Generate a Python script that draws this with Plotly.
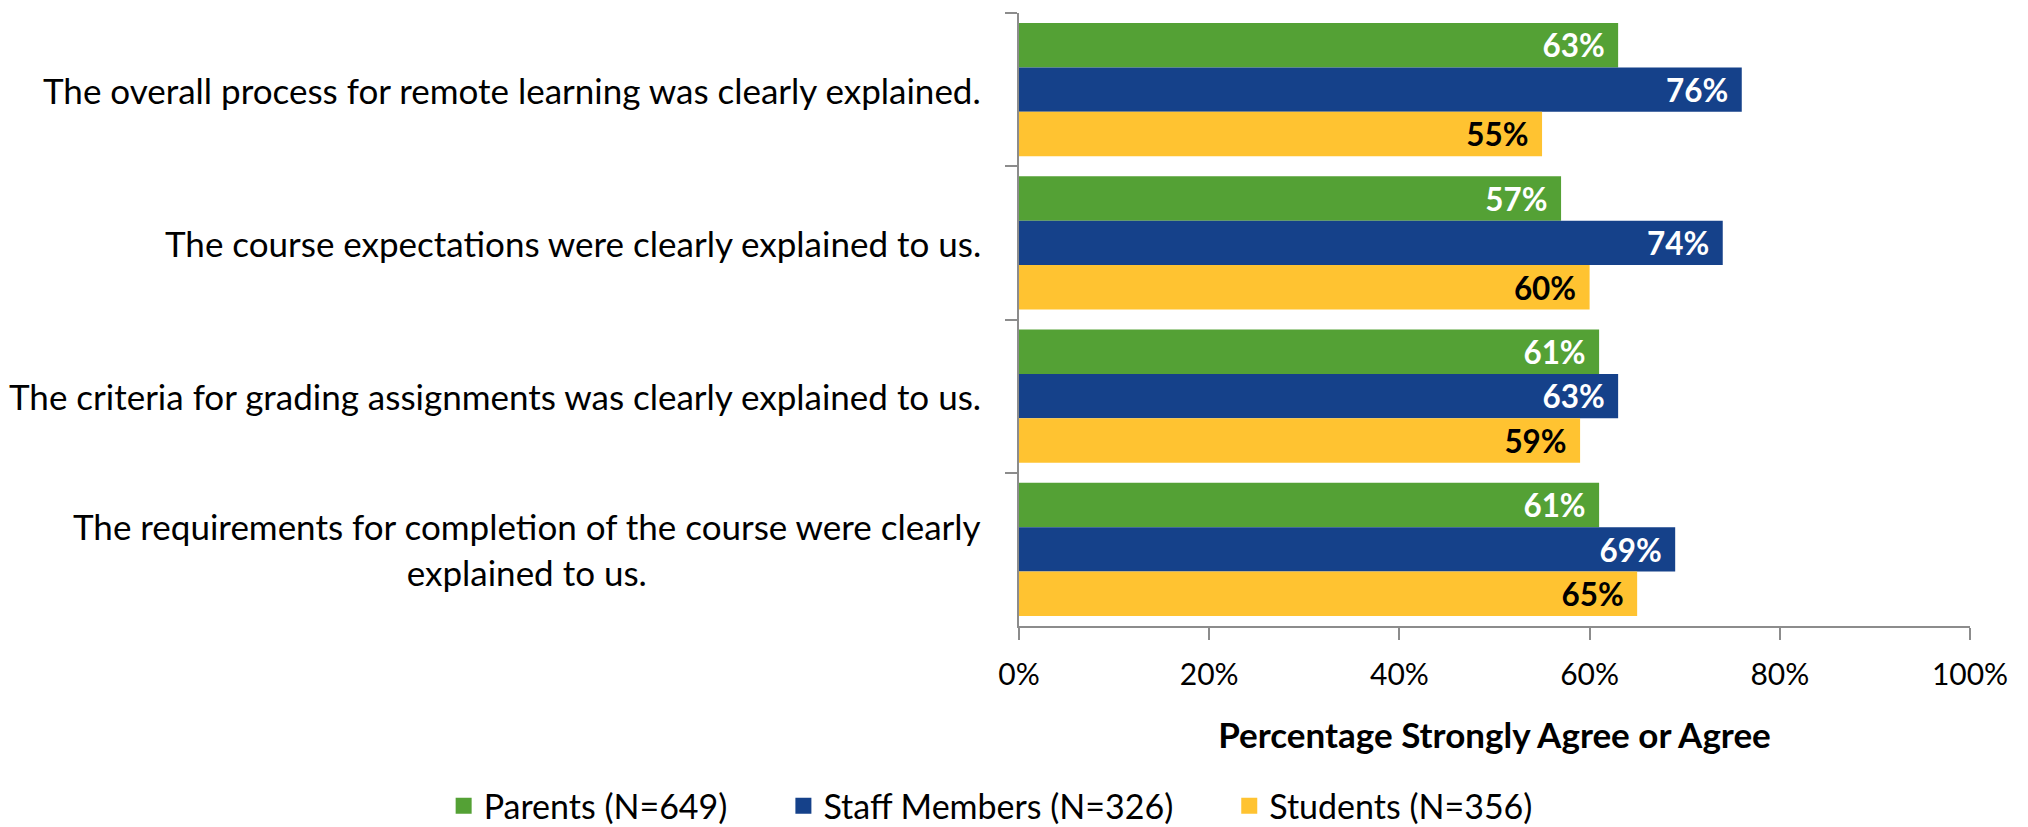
import plotly.graph_objects as go

categories = [
    "The overall process for remote learning was clearly explained.",
    "The course expectations were clearly explained to us.",
    "The criteria for grading assignments was clearly explained to us.",
    "The requirements for completion of the course were clearly<br>explained to us.",
]
parents = [63, 57, 61, 61]
staff = [76, 74, 63, 69]
students = [55, 60, 59, 65]
series_names = ["Parents (N=649)", "Staff Members (N=326)", "Students (N=356)"]
x_ticks = [0, 20, 40, 60, 80, 100]
x_tick_labels = ["0%", "20%", "40%", "60%", "80%", "100%"]

colors = ["#54A135", "#15418A", "#FFC331"]
label_colors = ["white", "white", "black"]
FONT = "Lato, 'Open Sans', sans-serif"

fig = go.Figure()
for name, vals, c, lc in zip(series_names, [parents, staff, students], colors, label_colors):
    fig.add_trace(go.Bar(
        y=categories, x=vals, name=name, orientation="h", legendgroup=name,
        showlegend=False,
        marker=dict(color=c, line=dict(width=0)),
        text=[f"{v}%\u2004" for v in vals],
        textposition="inside", insidetextanchor="end",
        textfont=dict(family=FONT, size=36, color=lc, weight="bold"),
        cliponaxis=False,
    ))
# legend entries with larger square symbols
for name, c in zip(series_names, colors):
    fig.add_trace(go.Scatter(
        x=[None], y=[None], mode="markers", name=name + "\u2003\u2003", legendgroup=name,
        marker=dict(symbol="square", size=24, color=c), showlegend=True,
    ))

for cat in categories:
    fig.add_annotation(
        x=0, xref="paper", y=cat, yref="y", text=cat, showarrow=False,
        xanchor="right", yanchor="middle", align="center", xshift=-36,
        font=dict(family=FONT, size=35, color="black"),
    )

fig.update_layout(
    width=2020, height=819,
    margin=dict(l=1011, r=58, t=5, b=201, autoexpand=False),
    paper_bgcolor="white", plot_bgcolor="white",
    barmode="group", bargap=0.13, bargroupgap=0,
    font=dict(family=FONT, size=30, color="black"),
    showlegend=True,
    legend=dict(orientation="h", xref="paper", yref="paper",
                x=-0.605, xanchor="left", y=-0.294, yanchor="middle",
                font=dict(family=FONT, size=34, color="black"),
                traceorder="normal", itemwidth=30),
    xaxis=dict(range=[0, 100], tickvals=x_ticks, ticktext=x_tick_labels,
               showgrid=False, zeroline=False, showline=True, linecolor="#8C8C8C", linewidth=2,
               ticks="outside", ticklen=12, tickcolor="#8C8C8C", tickwidth=2,
               ticklabelstandoff=9,
               tickfont=dict(family=FONT, size=30, color="black"),
               title=dict(text="<b>Percentage Strongly Agree or Agree</b>", standoff=33,
                          font=dict(family=FONT, size=35, color="black"))),
    yaxis=dict(autorange="reversed", showticklabels=False, showgrid=False, zeroline=False,
               showline=True, linecolor="#8C8C8C", linewidth=2,
               ticks="outside", tickson="boundaries", ticklen=12, tickcolor="#8C8C8C", tickwidth=2),
)

fig.write_html("out.html")
